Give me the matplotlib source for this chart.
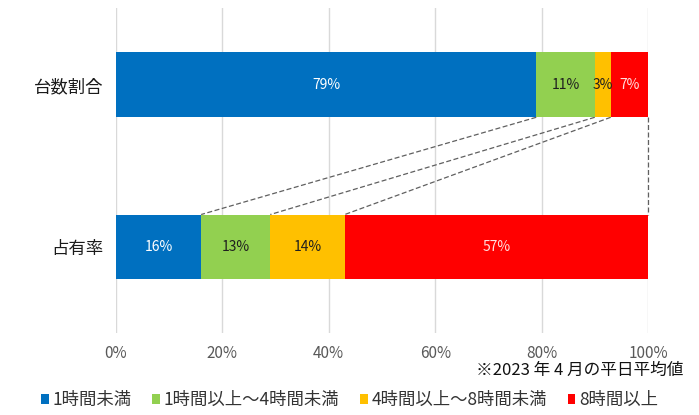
import numpy as np
import matplotlib
matplotlib.use("Agg")
import matplotlib.pyplot as plt
from matplotlib.patches import Patch

plt.rcParams['font.family'] = ['Noto Sans CJK JP', 'DejaVu Sans']

# data
categories = ['台数割合', '占有率']
series_names = ['1時間未満', '1時間以上～4時間未満', '4時間以上～8時間未満', '8時間以上']
share_units = [79, 11, 3, 7]      # 台数割合
share_occupy = [16, 13, 14, 57]   # 占有率
colours = ['#0070C0', '#92D050', '#FFC000', '#FF0000']
label_colours = ['white', '#1f1f1f', '#1f1f1f', '#ffe0e0']
xticks = [0, 0.2, 0.4, 0.6, 0.8, 1.0]
xtick_labels = ['0%', '20%', '40%', '60%', '80%', '100%']
note = '※2023 年 4 月の平日平均値'

fig = plt.figure(figsize=(6.99, 4.15), dpi=100)
ax = fig.add_axes([0.166, 0.198, 0.761, 0.783])

bar_h = 0.4
rows = [np.array(share_units) / 100, np.array(share_occupy) / 100]
for yi, vals in enumerate(rows):
    left = 0
    for i, v in enumerate(vals):
        ax.barh(yi, v, left=left, height=bar_h, color=colours[i], zorder=3)
        ax.text(left + v / 2, yi, f'{int(round(v * 100))}%', ha='center', va='center',
                color=label_colours[i], fontsize=10, zorder=4)
        left += v

# dashed connector lines between the two bars
cum_top = np.cumsum(rows[0])
cum_bot = np.cumsum(rows[1])
for a, b in zip(cum_top, cum_bot):
    ax.plot([a, b], [bar_h / 2, 1 - bar_h / 2], ls=(0, (4, 2)), color='#606060',
            lw=0.9, zorder=2, clip_on=False)

ax.set_xlim(0, 1)
ax.set_ylim(1.53, -0.475)
ax.set_yticks([0, 1])
ax.set_yticklabels(categories, fontsize=12.5, color='#1a1a1a')
ax.set_xticks(xticks)
ax.set_xticklabels(xtick_labels, fontsize=11, color='#595959')
ax.tick_params(axis='both', length=0)
ax.tick_params(axis='x', pad=9)
ax.tick_params(axis='y', pad=9)
ax.grid(axis='x', color='#D9D9D9', lw=1, zorder=0)
for s in ax.spines.values():
    s.set_visible(False)

fig.text(0.978, 0.108, note, ha='right', va='center', fontsize=12, color='#111111')

handles = [Patch(facecolor=c, edgecolor='none') for c in colours]
fig.legend(handles, series_names, loc='center', bbox_to_anchor=(0.5, 0.036), ncol=4,
           frameon=False, handlelength=0.45, handleheight=0.45, handletextpad=0.2,
           columnspacing=1.2, prop={'size': 12.5}, labelcolor='#333333')

fig.savefig('out.png', dpi=100)
